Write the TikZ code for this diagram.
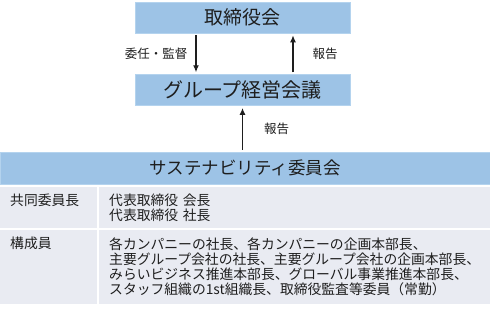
\documentclass[tikz,border=0pt]{standalone}
\usepackage{fontspec}
\setmainfont{Noto Sans CJK JP}
\usepackage{xcolor}
\usepackage{tikz}
\tikzset{>=latex}
\usetikzlibrary{
    positioning, % relative placement of nodes
    arrows.meta, % arrow tips
    calc
}
\definecolor{boxblue}{HTML}{9DC3E6}
\definecolor{boxedge}{HTML}{B4D3EE}
\definecolor{rowgray}{HTML}{E9EBF2}
\definecolor{inkdark}{HTML}{1E1E1E}
\newcommand{\fsz}[1]{\fontsize{#1pt}{#1pt}\selectfont}

\begin{document}
\begin{tikzpicture}[x=1pt, y=-1pt,
    bluebox/.style={fill=boxblue, draw=boxedge, line width=0.6pt, inner sep=0pt, text=inkdark},
    cell/.style={fill=rowgray, inner sep=0pt, text=inkdark},
    flow/.style={->, line width=1.3pt, draw=inkdark, shorten >=2pt, shorten <=2pt,
                 >={Latex[length=7pt,width=6pt]}},
    flowlabel/.style={font=\fsz{12.5}, text=inkdark, inner sep=0pt}]
  % simple knobs
  \def\BW{215pt}   % width of the two upper boxes
  \def\BH{31pt}    % height of the blue boxes
  \def\LH{41pt}    % height of the first table row
  \def\MH{74pt}    % height of the second table row

  \useasboundingbox (0,0) rectangle (490,309);

  % ===================== UPPER BOXES =====================
  \node[bluebox, minimum width=\BW, minimum height=\BH, font=\fsz{19}]
    (board) at (242.5,17.5) {取締役会};
  \node[bluebox, minimum width=\BW, minimum height=\BH, font=\fsz{20}, below=41pt of board]
    (mgmt) {グループ経営会議};

  % delegation down, reporting up
  \draw[flow] ([xshift=-46.5pt]board.south) -- ([xshift=-46.5pt]mgmt.north)
    node[flowlabel, midway, left=8pt] {委任・監督};
  \draw[flow] ([xshift=50.5pt]mgmt.north) -- ([xshift=50.5pt]board.south)
    node[flowlabel, midway, right=19pt] {報告};

  % ===================== COMMITTEE BAR =====================
  \node[bluebox, minimum width=490pt, minimum height=32pt, font=\fsz{17.5}]
    (committee) at (245,168) {サステナビリティ委員会};
  \draw[flow] (committee.north -| mgmt.south) -- (mgmt.south)
    node[flowlabel, midway, right=21pt] {報告};

  % ===================== MEMBER TABLE =====================
  % row 1: co-chairs
  \node[cell, anchor=north west, minimum width=97pt, minimum height=\LH]
    (chairhead) at (0,187) {};
  \node[cell, anchor=north west, minimum height=\LH, text width=371pt,
        inner xsep=10pt, align=left, font={\fontsize{13.8pt}{15pt}\selectfont}]
    (chairbody) at (99,187) {代表取締役 会長\\代表取締役 社長};
  \node[anchor=north west, inner sep=0pt, text=inkdark, font=\fsz{13.8}]
    at ([xshift=10pt, yshift=-6.5pt]chairhead.north west) {共同委員長};

  % row 2: members
  \node[cell, anchor=north west, minimum width=97pt, minimum height=\MH]
    (memberhead) at (0,230) {};
  \node[cell, anchor=north west, minimum height=\MH, text width=371pt,
        inner xsep=10pt, align=left, font={\fontsize{13.8pt}{15pt}\selectfont}]
    (memberbody) at (99,230) {各カンパニーの社長、各カンパニーの企画本部長、\\
      主要グループ会社の社長、主要グループ会社の企画本部長、\\
      みらいビジネス推進本部長、グローバル事業推進本部長、\\
      スタッフ組織の1st組織長、取締役監査等委員（常勤）};
  \node[anchor=north west, inner sep=0pt, text=inkdark, font=\fsz{13.8}]
    at ([xshift=10pt, yshift=-6.5pt]memberhead.north west) {構成員};
\end{tikzpicture}
\end{document}
